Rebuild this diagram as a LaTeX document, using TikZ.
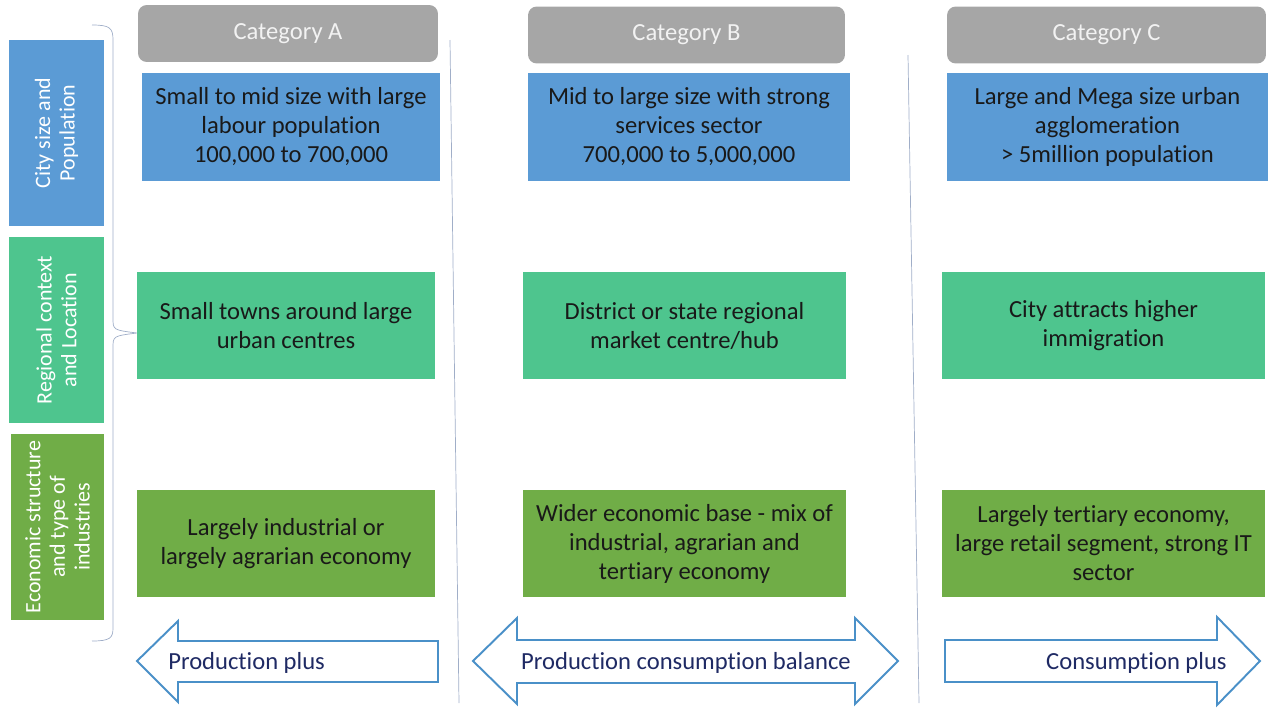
\documentclass[tikz,border=0pt]{standalone}
\usepackage{fontspec}
\setmainfont[Ligatures=NoCommon]{Carlito}
\definecolor{catgray}{RGB}{166,166,166}
\definecolor{popblue}{RGB}{91,155,213}
\definecolor{regteal}{RGB}{78,197,142}
\definecolor{ecogreen}{RGB}{112,173,71}
\definecolor{arrowblue}{RGB}{74,144,200}
\definecolor{navytext}{RGB}{31,42,100}
\definecolor{rulegray}{RGB}{160,174,200}
\begin{document}
\begin{tikzpicture}[x=0.02cm,y=-0.02cm,
    cell/.style={inner sep=0pt,align=center,text=black!90,
      font=\fontsize{14}{16.5}\selectfont},
    cathead/.style={cell,fill=catgray,rounded corners=5pt,text=white!95!black,
      minimum height=1.14cm},
    rowlabel/.style={inner sep=0pt,align=center,text=white,rotate=90,
      font=\fontsize{12.5}{14}\selectfont,minimum width=3.72cm,minimum height=1.9cm},
    flowarrow/.style={draw=arrowblue,line width=1.1pt,fill=white},
    arrowtext/.style={inner sep=0pt,text=navytext,font=\fontsize{14}{16.5}\selectfont}]
  \useasboundingbox (0,0) rectangle (1268,707);
  % dividers and brace
  \draw[rulegray,thin] (450,40)--(459,703);
  \draw[rulegray,thin] (908,55)--(919,703);
  \draw[rulegray,thin] (92,25) .. controls (110,25) and (113,28) .. (113,40)
    --(113,318) .. controls (113,330) .. (137,333)
    .. controls (113,336) .. (113,348) --(113,628)
    .. controls (113,638) and (110,641) .. (92,641);
  % row labels
  \node[rowlabel,fill=popblue] (lpop) at (56.5,133) {City size and\\Population};
  \node[rowlabel,fill=regteal] (lreg) at (56.5,330) {Regional context\\and Location};
  \node[rowlabel,fill=ecogreen,minimum height=1.86cm] (leco) at (57.5,527)
    {Economic structure\\and type of\\industries};
  % category headers
  \foreach \c/\x/\y/\w in {A/288/33.5/6.0,B/686.5/35/6.34,C/1106.5/35/6.38}
    \node[cathead,minimum width=\w cm] (cat\c) at (\x,\y) {Category \c};
  % city size row
  \node[cell,fill=popblue,minimum width=5.96cm,minimum height=2.16cm] (popA) at (291,127)
    {Small to mid size with large\\labour population\\100,000 to 700,000};
  \node[cell,fill=popblue,minimum width=6.44cm,minimum height=2.16cm] (popB) at (689,127)
    {Mid to large size with strong\\services sector\\700,000 to 5,000,000};
  \node[cell,fill=popblue,minimum width=6.42cm,minimum height=2.16cm] (popC) at (1107.5,127)
    {Large and Mega size urban\\agglomeration\\> 5million population};
  % regional row
  \node[cell,fill=regteal,minimum width=5.96cm,minimum height=2.14cm] (regA) at (286,325.5)
    {Small towns around large\\urban centres};
  \node[cell,fill=regteal,minimum width=6.46cm,minimum height=2.14cm] (regB) at (684.5,325.5)
    {District or state regional\\market centre/hub};
  \node[cell,fill=regteal,minimum width=6.46cm,minimum height=2.14cm] (regC) at (1103.5,325.5)
    {City attracts higher\\immigration};
  % economic row
  \node[cell,fill=ecogreen,minimum width=5.96cm,minimum height=2.14cm] (ecoA) at (286,543.5)
    {Largely industrial or\\largely agrarian economy};
  \node[cell,fill=ecogreen,minimum width=6.46cm,minimum height=2.14cm] (ecoB) at (684.5,543.5)
    {Wider economic base - mix of\\industrial, agrarian and\\tertiary economy};
  \node[cell,fill=ecogreen,minimum width=6.46cm,minimum height=2.14cm] (ecoC) at (1103.5,543.5)
    {Largely tertiary economy,\\large retail segment, strong IT\\sector};
  % bottom arrows
  \draw[flowarrow] (137,661)--(178,621)--(178,641)--(438,641)--(438,682)
    --(178,682)--(178,702)--cycle;
  \draw[flowarrow] (473,661)--(517,618)--(517,640)--(855,640)--(855,618)--(898,661)
    --(855,704)--(855,683)--(517,683)--(517,704)--cycle;
  \draw[flowarrow] (945,640)--(1217,640)--(1217,617)--(1260,661)--(1217,705)
    --(1217,682)--(945,682)--cycle;
  \node[arrowtext,anchor=west] (prod) at (168,663) {Production plus};
  \node[arrowtext] (bal) at (686,663) {Production consumption balance};
  \node[arrowtext,anchor=east] (cons) at (1227,663) {Consumption plus};
\end{tikzpicture}
\end{document}
